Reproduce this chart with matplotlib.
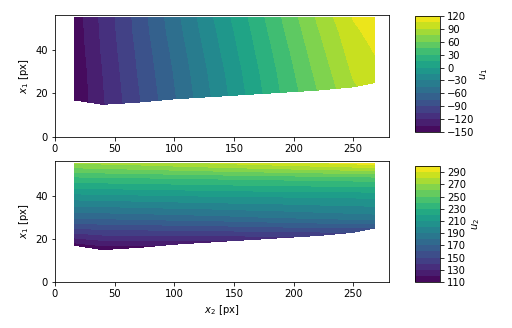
import matplotlib
matplotlib.use('Agg')
import matplotlib.pyplot as plt
import numpy as np

# Sample columns along x2 and rows along x1
x2_cols = [16, 40, 70, 100, 130, 160, 190, 220, 250, 268]
x1_low = [17, 15, 16, 17.5, 18.5, 19.5, 20.5, 21.5, 23, 25]
x1_mid = [30, 40, 48]
x1_top = [55, 55, 55, 55, 55, 55, 55, 55, 55, 55]

# u1 per column, rows: low, 30, 40, 48, top
u1_vals = [
    [-149, -148, -146, -145, -144],
    [-122, -120, -118, -117, -116],
    [-92, -89, -87, -85, -84],
    [-62, -59, -56, -53, -51],
    [-31, -28, -24, -21, -18],
    [0, 3, 7, 10, 13],
    [31, 34, 38, 42, 45],
    [60, 64, 69, 73, 77],
    [88, 92, 97, 101, 106],
    [98, 101, 106, 111, 116],
]

# u2 per column, rows: low, 30, 40, 48, top
u2_vals = [
    [115, 172, 207, 237, 270],
    [113, 173, 208, 238, 272],
    [117, 174, 209, 239, 274],
    [122, 176, 210, 240, 277],
    [127, 177, 211, 241, 280],
    [132, 179, 212, 242, 283],
    [137, 181, 212, 243, 286],
    [142, 183, 213, 244, 289],
    [150, 185, 213, 245, 292],
    [160, 186, 214, 246, 295],
]

u1_levels = np.arange(-150, 121, 15)
u1_ticks = np.arange(-150, 121, 30)
u2_levels = np.arange(110, 301, 10)
u2_ticks = np.arange(110, 291, 20)

# Build curvilinear grid (rows x columns)
n = len(x2_cols)
X2 = np.tile(np.array(x2_cols, float), (5, 1))
X1 = np.vstack([x1_low] + [[m] * n for m in x1_mid] + [x1_top]).astype(float)
U1 = np.array(u1_vals, float).T
U2 = np.array(u2_vals, float).T

plt.rcParams['font.size'] = 10
fig = plt.figure(figsize=(512 / 72, 328 / 72), dpi=72)

ax1 = fig.add_axes([0.1074, 0.5823, 0.6523, 0.372])
ax2 = fig.add_axes([0.1074, 0.1402, 0.6523, 0.3689])
cax1 = fig.add_axes([0.8105, 0.5976, 0.0488, 0.3537])
cax2 = fig.add_axes([0.8105, 0.1402, 0.0488, 0.3537])

cs1 = ax1.contourf(X2, X1, U1, levels=u1_levels, cmap='viridis')
cs2 = ax2.contourf(X2, X1, U2, levels=u2_levels, cmap='viridis')

for ax in (ax1, ax2):
    ax.set_xlim(0, 280)
    ax.set_ylim(0, 56)
    ax.set_xticks([0, 50, 100, 150, 200, 250])
    ax.set_yticks([0, 20, 40])
    ax.set_ylabel('$x_1$ [px]')
ax2.set_xlabel('$x_2$ [px]')

cb1 = fig.colorbar(cs1, cax=cax1, ticks=u1_ticks)
cb1.set_label('$u_1$')
cb2 = fig.colorbar(cs2, cax=cax2, ticks=u2_ticks)
cb2.set_label('$u_2$')

fig.savefig('out.png', dpi=72)
